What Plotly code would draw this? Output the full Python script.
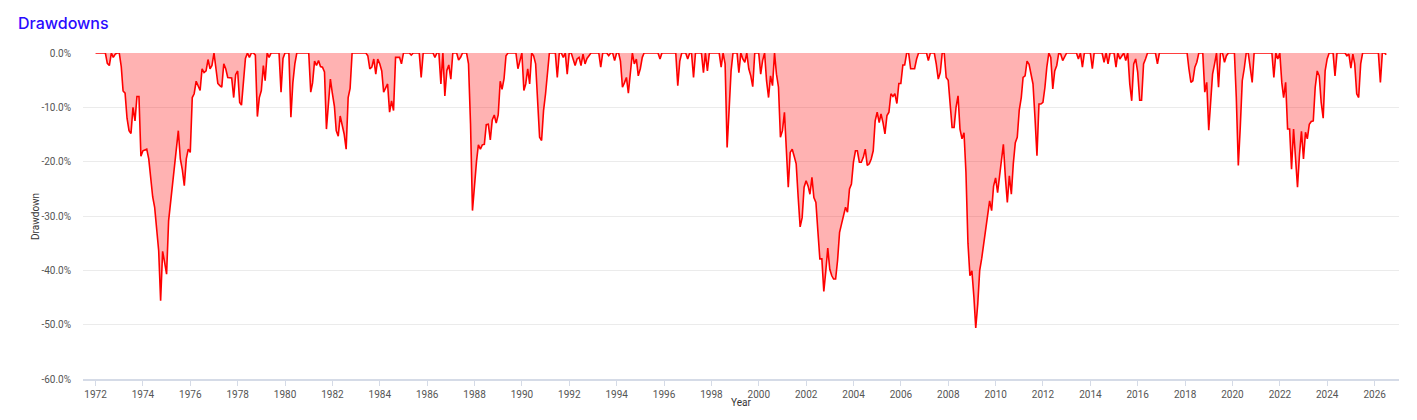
"""
Drawdowns chart (monthly, month-end values), recreated with Plotly.
"""

import pandas as pd
import plotly.graph_objects as go

# ── Datos: drawdown mensual (%) por año, ene..dic ─────────────────────────────
START_VALUE = 0.0  # 1971-12-31

y1972 = [0, 0, 0, 0, 0, -1.9, -2.3, 0, -0.8, -0.2, 0, 0]
y1973 = [-2.5, -7, -7.4, -12, -14.3, -14.8, -10, -12.5, -8, -8, -19, -18]
y1974 = [-17.8, -17.7, -19.5, -23, -26.5, -28.4, -32, -36.4, -45.6, -36.5, -38.5, -40.7]
y1975 = [-30.9, -27.8, -24.5, -21, -17.5, -14.3, -19.5, -21.5, -24.4, -19.5, -17.7, -18.3]
y1976 = [-8.2, -7.5, -5.2, -6, -6.9, -2.9, -3.6, -3.3, -1.2, -2.9, -2.3, 0]
y1977 = [-3.6, -5.6, -6, -6.3, -2, -2.9, -4.5, -4.5, -4.6, -8.2, -4, -3.3]
y1978 = [-9.1, -9.6, -5.1, -1, 0, -0.8, 0, 0, -0.4, -11.7, -8.2, -6.9]
y1979 = [-2.3, -5.1, 0, -0.8, 0, 0, 0, 0, 0, -7.2, -1, 0]
y1980 = [0, 0, -11.8, -5.5, -2, 0, 0, 0, 0, 0, 0, 0]
y1981 = [-7.2, -5.5, -1.5, -2.3, -1.4, -2.5, -2.6, -3.5, -14, -9, -4.8, -7.5]
y1982 = [-9.8, -14.3, -15.3, -11.6, -13.5, -14.9, -17.7, -8.2, -6.5, 0, 0, 0]
y1983 = [0, 0, 0, 0, 0, -0.5, -2.9, -2.6, -1.1, -3.9, -1.1, -2]
y1984 = [-3.3, -7.2, -6.3, -5.7, -10.9, -8.8, -10.6, -0.8, -0.8, -0.8, -2, 0]
y1985 = [0, 0, 0, -0.4, 0, 0, 0, 0, -4.5, 0, 0, 0]
y1986 = [0, 0, 0, -0.8, 0, 0, -5.7, 0, -7.9, -3.2, -2.2, -4.8]
y1987 = [0, 0, 0, -1.3, -0.8, 0, 0, 0, -2, -13, -29, -24]
y1988 = [-20, -16.9, -17.7, -16.9, -16.8, -13.2, -13.1, -16, -12.3, -11.4, -12.9, -11.4]
y1989 = [-5.2, -6.7, -4.7, -0.5, 0, 0, 0, 0, 0, -2.9, -1.4, 0]
y1990 = [-6.9, -5.7, -2.9, -5.7, 0, -0.5, -2, -10, -15.5, -16.1, -10.6, -7.5]
y1991 = [-3.3, 0, 0, 0, 0, -4.5, 0, 0, -0.8, 0, -3.9, 0]
y1992 = [0, -1.1, -2.3, -1.1, -0.8, -2.3, -0.2, -2, -1, -0.5, 0, 0]
y1993 = [0, 0, 0, -2.6, 0, 0, 0, -0.5, 0, 0, -1.4, 0]
y1994 = [0, -1.5, -6.3, -5.5, -4.5, -7.4, -3.9, 0, -2, -1.1, -4.2, -2.9]
y1995 = [-0.8, 0, 0, 0, 0, 0, 0, 0, 0, -1.1, 0, 0]
y1996 = [0, 0, 0, 0, 0, 0, -6, -1.5, 0, 0, 0, -1.1]
y1997 = [0, 0, -4.5, 0, 0, 0, 0, -3.6, 0, -3.3, 0, 0]
y1998 = [0, 0, 0, 0, -2.6, 0, -2, -17.4, -10.6, -3.3, 0, 0]
y1999 = [0, -3.6, 0, -1.1, -1.7, 0, -2.9, -4.2, -6.2, 0, 0, 0]
y2000 = [-3.9, -1.4, 0, -5.1, -8.2, -4.2, -6, 0, -3.9, -6.3, -15.5, -14.3]
y2001 = [-10.9, -18, -24.7, -18.3, -17.7, -19, -20.4, -26.6, -32, -30.3, -24.7, -23.5]
y2002 = [-24.5, -26, -22.9, -26.6, -27.5, -32.7, -37.9, -37.9, -43.9, -40.1, -35.9, -39.8]
y2003 = [-41, -41.6, -41.6, -38.2, -33, -31.5, -29.7, -28.4, -29.3, -25, -24.1, -20.1]
y2004 = [-18, -18, -20.1, -20.1, -19.2, -17.7, -20.7, -20.4, -19.5, -18, -12.5, -10.9]
y2005 = [-12.8, -11.2, -12.8, -14.9, -11.5, -10.9, -7.5, -8, -7.5, -9.3, -5.6, -5.6]
y2006 = [-2.2, -2.2, 0, 0, -2.9, -2.9, -2.9, -1.1, 0, 0, 0, 0]
y2007 = [0, -1.4, 0, 0, 0, -2, -4.8, -3.6, 0, 0, -4.5, -5]
y2008 = [-10, -13.7, -13.7, -10, -7.9, -14, -15.8, -14.7, -22, -35, -41, -40.1]
y2009 = [-45, -50.6, -46.2, -40, -37.8, -35, -32.1, -30, -27.2, -29, -24.5, -23]
y2010 = [-25.7, -22.9, -19.2, -16.8, -22.9, -27.5, -22.6, -26, -20.4, -16.5, -15.5, -10.5]
y2011 = [-8.2, -4.5, -4.2, -1.5, -2.1, -3.6, -5.7, -12, -18.9, -9.4, -9.4, -9.1]
y2012 = [-6.3, -2.6, 0, -0.8, -6.6, -3.3, -2.3, 0, -0.2, -1.4, -0.8, 0]
y2013 = [0, 0, 0, 0, 0, -1.1, 0, -2.6, 0, 0, 0, 0]
y2014 = [-2.9, 0, 0, 0, 0, 0, -1.7, 0, -2, 0, 0, 0]
y2015 = [-2.6, 0, -1.1, -0.5, 0, -1.4, 0, -5.7, -8.8, -2, -1.1, -3.5]
y2016 = [-8.7, -8.7, -2, -1.1, 0, 0, 0, 0, 0, -2, 0, 0]
y2017 = [0, 0, 0, 0, 0, 0, 0, 0, 0, 0, 0, 0]
y2018 = [0, -2.9, -5.4, -5.1, -2.6, -1.7, 0, 0, 0, -7.2, -5.4, -14.2]
y2019 = [-7.5, -3.9, -2, 0, -6.3, 0, 0, -1.7, -0.5, 0, 0, 0]
y2020 = [0, -8.2, -20.7, -13.7, -5.1, -2.9, 0, 0, -3, -5.4, 0, 0]
y2021 = [0, 0, 0, 0, 0, 0, 0, 0, -4.5, 0, -1.1, 0]
y2022 = [-5.5, -8.2, -5.4, -14, -14, -21.4, -14, -18.6, -24.7, -18.6, -14.4, -19.5]
y2023 = [-14.6, -15.8, -13.1, -12.6, -12.5, -6.3, -3.3, -4.2, -9.1, -12, -3.3, -1.1]
y2024 = [0, 0, 0, -4.2, 0, 0, 0, 0, 0, -0.5, -0.2, -2.8]
y2025 = [-0.2, -2, -7.5, -8.2, -2, 0, 0, 0, 0, 0, 0, 0]
y2026 = [0, 0, -5.4, 0, 0, -0.3]

YEARS = [
    y1972, y1973, y1974, y1975, y1976, y1977, y1978, y1979, y1980, y1981,
    y1982, y1983, y1984, y1985, y1986, y1987, y1988, y1989, y1990, y1991,
    y1992, y1993, y1994, y1995, y1996, y1997, y1998, y1999, y2000, y2001,
    y2002, y2003, y2004, y2005, y2006, y2007, y2008, y2009, y2010, y2011,
    y2012, y2013, y2014, y2015, y2016, y2017, y2018, y2019, y2020, y2021,
    y2022, y2023, y2024, y2025, y2026,
]

Y_TICKS = [0, -10, -20, -30, -40, -50, -60]

# ── Serie ─────────────────────────────────────────────────────────────────────
values = [START_VALUE] + [v for year in YEARS for v in year]
dates = pd.date_range("1971-12-31", periods=len(values), freq="ME")

fig = go.Figure()

fig.add_trace(go.Scatter(
    x=dates, y=values,
    mode="lines",
    line=dict(color="#ff0000", width=1.6),
    fill="tozeroy", fillcolor="rgba(255,0,0,0.3)",
    name="Drawdown", showlegend=False,
))

# Títulos de ejes como anotaciones (posición fija)
fig.add_annotation(
    text="Drawdown", xref="paper", yref="paper",
    x=-0.0365, y=0.5, xanchor="center", yanchor="middle",
    textangle=-90, showarrow=False,
    font=dict(size=10, color="#333333"),
)
fig.add_annotation(
    text="Year", xref="paper", yref="paper",
    x=0.5, y=-0.073, xanchor="center", yanchor="middle",
    showarrow=False,
    font=dict(size=10, color="#333333"),
)

# la página añade 8 px de margen al body: la figura se dibuja desplazada
fig.update_layout(
    width=1401, height=404,
    margin=dict(l=75, r=10, t=45, b=33),
    paper_bgcolor="white", plot_bgcolor="white",
    font=dict(family="Roboto, sans-serif", size=10, color="#555555"),
    title=dict(
        text="Drawdowns",
        x=10 / 1401, xref="container", xanchor="left",
        y=1 - 15 / 404, yref="container", yanchor="middle",
        font=dict(family="Inter, sans-serif", size=16, color="#2a0bff", weight=500),
    ),
    xaxis=dict(
        type="date",
        range=["1971-06-21", "2027-01-12"],
        tick0="1972-01-01", dtick="M24", tickformat="%Y",
        showgrid=False, zeroline=False, automargin=False,
        showline=True, linecolor="#d5dbe7", linewidth=1.5,
        ticks="outside", ticklen=5, tickcolor="#d5dbe7",
        tickfont=dict(size=10, color="#555555"),
    ),
    yaxis=dict(
        range=[-60, 0],
        tickvals=Y_TICKS,
        ticktext=[f"{v:.1f}%" for v in Y_TICKS],
        showgrid=True, gridcolor="#ebebeb", gridwidth=1,
        zeroline=False, showline=False, automargin=False,
        ticks="", ticklabelstandoff=11,
        tickfont=dict(size=10, color="#555555"),
    ),
)

fig.write_html("out.html")
